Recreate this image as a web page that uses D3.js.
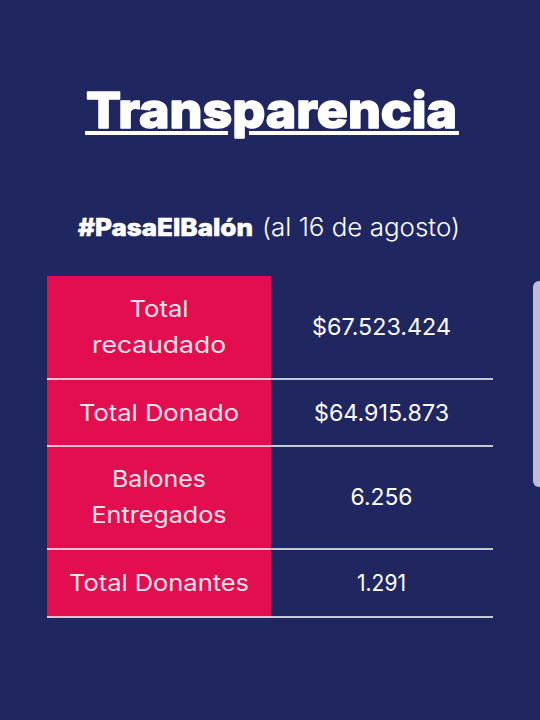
<!DOCTYPE html>
<html><head><meta charset="utf-8">
<script src="https://cdnjs.cloudflare.com/ajax/libs/d3/7.8.5/d3.min.js"></script>
<style>html,body{margin:0;padding:0;background:#1f2660}svg{display:block}text{font-family:Inter,Roboto,sans-serif}</style>
</head><body><div id="c"></div>
<script>
const labels=[["Total","recaudado"],["Total Donado"],["Balones","Entregados"],["Total Donantes"]];
const values=["$67.523.424","$64.915.873","6.256","1.291"];
const labelWidths=[[59,134],[160],[94,135],[180]];
const valueWidths=[139,135,62,49];
const rowEdges=[276,379,446,549,617];
const svg=d3.select("#c").append("svg").attr("width",540).attr("height",720);
svg.append("rect").attr("width",540).attr("height",720).attr("fill","#1f2660");
svg.append("rect").attr("x",533).attr("y",281).attr("width",12).attr("height",206).attr("rx",6).attr("fill","#bfbdd8");
svg.append("text").attr("x",271.5).attr("y",128).attr("text-anchor","middle").attr("fill","#fff")
 .attr("stroke","#fff").attr("stroke-width",1.6).attr("stroke-linejoin","round")
 .attr("font-size",50).attr("font-weight",800).attr("textLength",371).attr("lengthAdjust","spacingAndGlyphs").text("Transparencia");
svg.append("rect").attr("x",85).attr("y",131).attr("width",143).attr("height",4).attr("fill","#fff");
svg.append("rect").attr("x",249).attr("y",131).attr("width",210).attr("height",4).attr("fill","#fff");
svg.append("text").attr("x",78).attr("y",236).attr("fill","#fff").attr("stroke","#fff").attr("stroke-width",.6).attr("font-size",24).attr("font-weight",800)
 .attr("textLength",175).attr("lengthAdjust","spacingAndGlyphs").text("#PasaElBalón");
svg.append("text").attr("x",262).attr("y",236).attr("fill","#fff").attr("font-size",25).attr("font-weight",300)
 .attr("textLength",198).attr("lengthAdjust","spacingAndGlyphs").text("(al 16 de agosto)");
const rows=d3.range(labels.length);
svg.selectAll("rect.cell").data(rows).join("rect").attr("class","cell").attr("x",47).attr("width",224)
 .attr("y",i=>rowEdges[i]).attr("height",i=>rowEdges[i+1]-rowEdges[i]).attr("fill","#e20e4f");
svg.selectAll("line.sep").data(rows).join("line").attr("class","sep").attr("x1",47).attr("x2",493)
 .attr("y1",i=>rowEdges[i+1]).attr("y2",i=>rowEdges[i+1]).attr("stroke","#fff").attr("stroke-width",1.5);
rows.forEach(i=>{
 const mid=(rowEdges[i]+rowEdges[i+1])/2-(labels[i].length>1?1:0);
 labels[i].forEach((t,j)=>{
  svg.append("text").attr("x",159).attr("y",mid+8+(j-(labels[i].length-1)/2)*36).attr("text-anchor","middle").attr("fill","#f9e3ea").attr("font-size",23).attr("font-weight",400)
   .attr("textLength",labelWidths[i][j]).attr("lengthAdjust","spacingAndGlyphs").text(t);
 });
 svg.append("text").attr("x",381.5).attr("y",mid+8).attr("text-anchor","middle").attr("fill","#fff").attr("font-size",23).attr("font-weight",400)
  .attr("textLength",valueWidths[i]).attr("lengthAdjust","spacingAndGlyphs").text(values[i]);
});
</script></body></html>
